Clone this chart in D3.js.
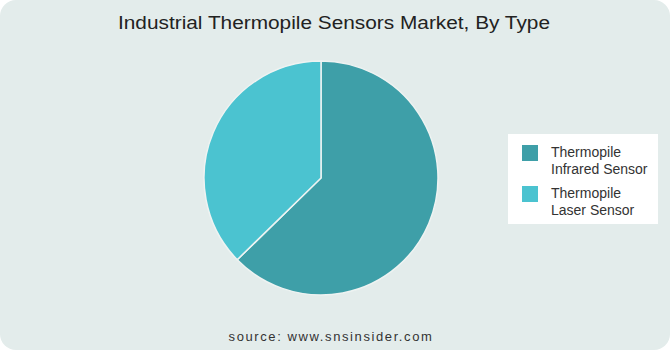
<!DOCTYPE html>
<html><head><meta charset="utf-8">
<script src="https://cdn.jsdelivr.net/npm/d3@7"></script>
<style>body{margin:0;background:#fff;}svg{display:block;}</style>
</head><body>
<svg id="c" width="670" height="350"></svg>
<script>
const categories = ["Thermopile Infrared Sensor", "Thermopile Laser Sensor"];
const legendLines = [["Thermopile", "Infrared Sensor"], ["Thermopile", "Laser Sensor"]];
const values = [62.7, 37.3];
const colors = ["#3e9fa8", "#4bc3d0"];
const title = "Industrial Thermopile Sensors Market, By Type";
const source = "source: www.snsinsider.com";

const svg = d3.select("#c");
const font = "'Liberation Sans', 'DejaVu Sans', sans-serif";
svg.append("rect").attr("x",0).attr("y",0).attr("width",670).attr("height",350)
  .attr("rx",16).attr("fill","#e3eceb");

svg.append("text").attr("x",334).attr("y",29).attr("text-anchor","middle")
  .attr("font-family",font).attr("font-size",17.5).attr("fill","#222")
  .attr("textLength",432).attr("lengthAdjust","spacingAndGlyphs").text(title);

const pie = d3.pie().sort(null).value(d=>d);
const arc = d3.arc().innerRadius(0).outerRadius(117);
const g = svg.append("g").attr("transform","translate(321,178)");
g.selectAll("path").data(pie(values)).join("path")
  .attr("d",arc).attr("fill",(d,i)=>colors[i])
  .attr("stroke","#eef3f2").attr("stroke-width",1.5);

const lg = svg.append("g");
lg.append("rect").attr("x",508).attr("y",134).attr("width",150).attr("height",90).attr("fill","#fff");
const y0 = d3.scaleBand().domain(categories).range([141,223]);
categories.forEach((c,i)=>{
  const y = 145 + i*41;
  lg.append("rect").attr("x",522).attr("y",y).attr("width",16).attr("height",16).attr("fill",colors[i]);
  legendLines[i].forEach((t,j)=>{
    lg.append("text").attr("x",551).attr("y",y+12+j*17)
      .attr("font-family",font).attr("font-size",14).attr("fill","#333").text(t);
  });
});

svg.append("text").attr("x",331).attr("y",341).attr("text-anchor","middle")
  .attr("font-family",font).attr("font-size",13).attr("fill","#333")
  .attr("letter-spacing",1.6).text(source);
</script>
</body></html>
